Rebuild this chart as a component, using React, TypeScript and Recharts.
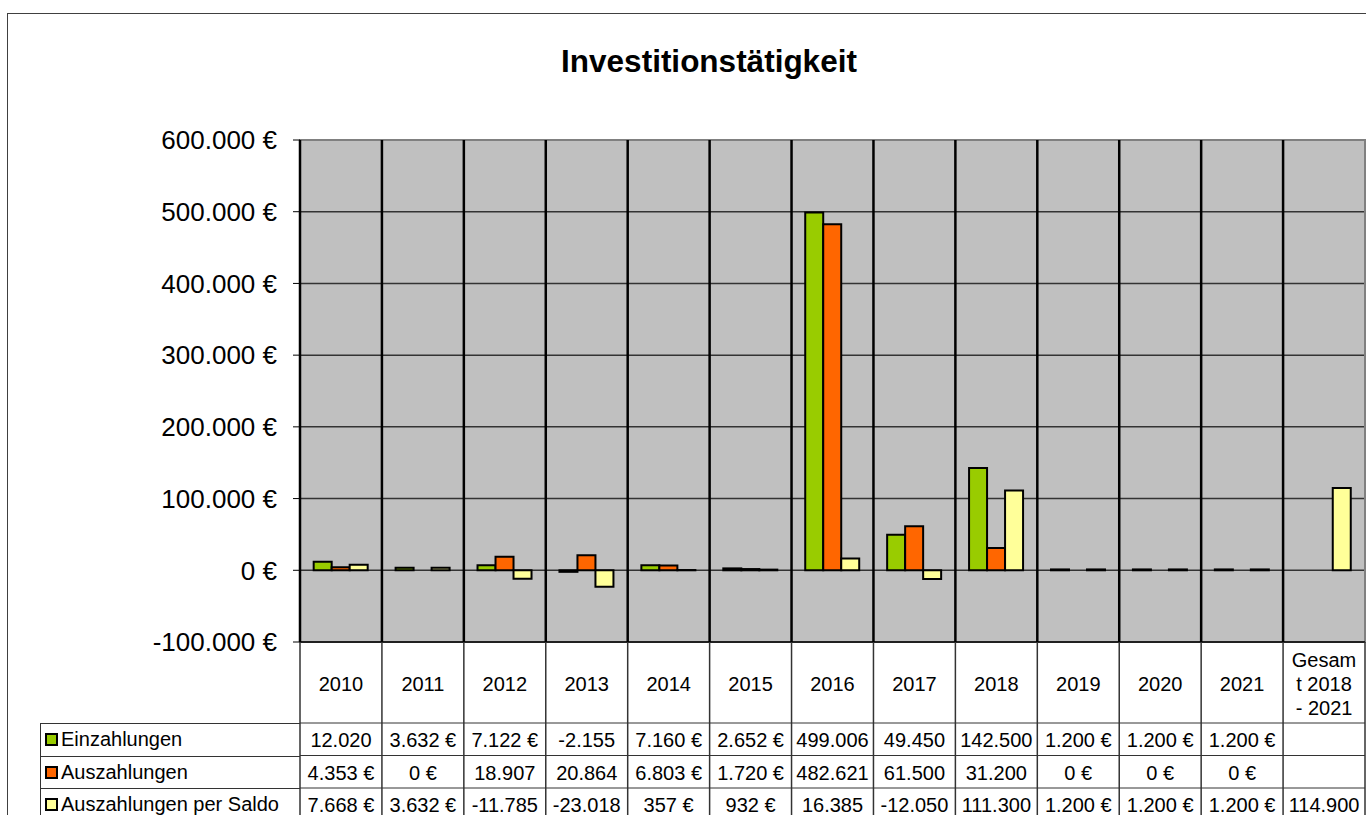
import React from "react"
import { BarChart, Bar, XAxis, YAxis, CartesianGrid, Legend, ReferenceArea } from "recharts"

const YEARS = [
  "2010", "2011", "2012", "2013", "2014", "2015", "2016",
  "2017", "2018", "2019", "2020", "2021", "Gesamt 2018 - 2021",
]
const EINZAHLUNGEN = [12020, 3632, 7122, -2155, 7160, 2652, 499006, 49450, 142500, 1200, 1200, 1200, null]
const AUSZAHLUNGEN = [4353, 0, 18907, 20864, 6803, 1720, 482621, 61500, 31200, 0, 0, 0, null]
const SALDO = [7668, 3632, -11785, -23018, 357, 932, 16385, -12050, 111300, 1200, 1200, 1200, 114900]
const Y_TICKS = [-100000, 0, 100000, 200000, 300000, 400000, 500000, 600000]
// Excel wrapped the last header cell like this
const HEADER_LINES: Record<string, string[]> = {
  "Gesamt 2018 - 2021": ["Gesam", "t 2018", "- 2021"],
}

const SERIES = [
  { key: "einz", name: "Einzahlungen", color: "#99cc00", values: EINZAHLUNGEN },
  { key: "ausz", name: "Auszahlungen", color: "#ff6600", values: AUSZAHLUNGEN },
  { key: "saldo", name: "Auszahlungen per Saldo", color: "#ffff99", values: SALDO },
]

const data = YEARS.map((year, i) => ({
  year,
  einz: EINZAHLUNGEN[i],
  ausz: AUSZAHLUNGEN[i],
  saldo: SALDO[i],
}))

const FONT = "'Liberation Sans', Arial, sans-serif"
const W = 1366
const H = 815
const PLOT_LEFT = 300
const PLOT_RIGHT = 1365
const PLOT_TOP = 140
const TABLE_H = 173
const PLOT_H = H - PLOT_TOP - TABLE_H
const HEADER_H = 81
const ROW_H = 32.5
const BAND = (PLOT_RIGHT - PLOT_LEFT) / YEARS.length
const LINE = "#333"

const deNum = (v: number) => {
  const s = Math.abs(v).toString().replace(/\B(?=(\d{3})+(?!\d))/g, ".")
  return v < 0 ? "-" + s : s
}
const euro = (v: number) => `${deNum(v)} €`
// narrow cells drop the currency sign when the number is long
const cell = (v: number | null) => {
  if (v == null) return ""
  const s = deNum(v)
  return s.length >= 6 ? s : s + " €"
}

// each x tick draws its column: separator in the plot, header cell and the three value cells
function TableTick(props: any) {
  const { x, y, payload } = props
  const i = typeof props.index === "number" ? props.index : YEARS.indexOf(payload.value)
  const left = x - BAND / 2
  const right = x + BAND / 2
  const lines = HEADER_LINES[payload.value] ?? [payload.value]
  return (
    <g fontFamily={FONT} fontSize={20}>
      <line x1={left} x2={left} y1={y - PLOT_H} y2={y} stroke="#000" strokeWidth={2.5} />
      <line x1={left} x2={left} y1={y} y2={y + TABLE_H} stroke={LINE} strokeWidth={1.5} />
      {i === YEARS.length - 1 && (
        <line x1={right} x2={right} y1={y} y2={y + TABLE_H} stroke={LINE} strokeWidth={1.5} />
      )}
      {lines.map((l, k) => (
        <text key={k} x={x} y={y + 42 + (k - (lines.length - 1) / 2) * 24}
          textAnchor="middle" dominantBaseline="central" fill="#000">{l}</text>
      ))}
      {SERIES.map((s, r) => {
        const top = y + HEADER_H + r * ROW_H
        return (
          <g key={s.key}>
            <line x1={left} x2={right} y1={top} y2={top} stroke={LINE} strokeWidth={1} />
            <text x={x} y={top + ROW_H / 2 + 1} textAnchor="middle" dominantBaseline="central" fill="#000">
              {cell(s.values[i])}
            </text>
          </g>
        )
      })}
    </g>
  )
}

function LegendTable({ payload }: any) {
  const items = SERIES.map((s) => (payload ?? []).find((p: any) => p.value === s.name)).filter(Boolean)
  return (
    <div style={{ fontFamily: FONT, fontSize: 20, borderLeft: `1px solid ${LINE}`, borderTop: `1px solid ${LINE}` }}>
      {items.map((p: any) => (
        <div key={p.value} style={{
          height: ROW_H - 1, display: "flex", alignItems: "center",
          borderBottom: `1px solid ${LINE}`, color: "#000", whiteSpace: "nowrap",
        }}>
          <span style={{
            display: "inline-block", width: 9, height: 9, margin: "0 3px 0 4px",
            border: "2px solid #000", background: p.color,
          }} />
          {p.value}
        </div>
      ))}
    </div>
  )
}

export default function App() {
  return (
    <div style={{ position: "absolute", left: 0, top: 0, width: W, height: H, overflow: "hidden", background: "#fff" }}>
      <div style={{ position: "absolute", left: 7, top: 13, width: 1400, height: 900, border: "1px solid #404040" }} />
      <div style={{
        position: "absolute", left: 409, top: 46, width: 600, textAlign: "center",
        fontFamily: FONT, fontWeight: "bold", fontSize: 31.5, lineHeight: "31px", color: "#000",
      }}>
        Investitionstätigkeit
      </div>
      <div style={{ position: "absolute", left: 0, top: 0 }}>
        <BarChart width={W} height={H} data={data} barGap={0} barCategoryGap="16.7%"
          margin={{ top: PLOT_TOP, right: W - PLOT_RIGHT, left: 0, bottom: 0 }}>
          <CartesianGrid fill="#c0c0c0" vertical={false} stroke={LINE} strokeWidth={1.5} />
          <ReferenceArea y1={-100000} y2={600000}
            fill="none" stroke="#808080" strokeWidth={2} ifOverflow="visible" />
          <XAxis dataKey="year" height={TABLE_H} interval={0} tickLine={false} tickSize={0} tickMargin={0}
            axisLine={{ stroke: "#000", strokeWidth: 1.5 }} tick={TableTick} />
          <YAxis width={PLOT_LEFT} domain={[-100000, 600000]} ticks={Y_TICKS} interval={0}
            tickFormatter={euro} tickSize={7} tickMargin={16}
            tick={{ fontSize: 26, fill: "#000", fontFamily: FONT }}
            tickLine={{ stroke: "#000" }} axisLine={{ stroke: "#000", strokeWidth: 1.5 }} />
          <Legend layout="vertical" align="center" verticalAlign="middle" content={LegendTable}
            wrapperStyle={{ position: "absolute", left: 40, top: 723, width: 260 }} />
          {SERIES.map((s) => (
            <Bar key={s.key} dataKey={s.key} name={s.name} fill={s.color}
              stroke="#000" strokeWidth={2} isAnimationActive={false} />
          ))}
        </BarChart>
      </div>
    </div>
  )
}
